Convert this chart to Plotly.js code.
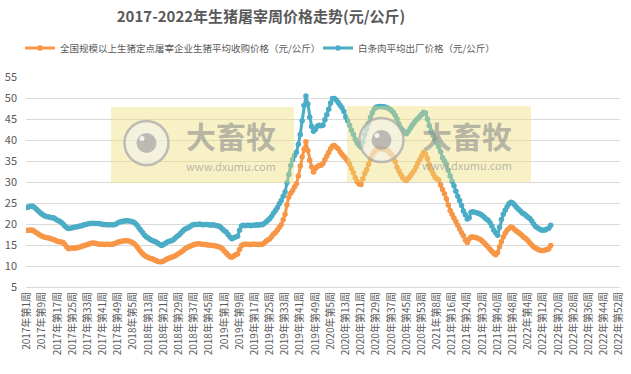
<!DOCTYPE html>
<html>
<head>
<meta charset="utf-8">
<script src="https://cdn.plot.ly/plotly-3.0.1.min.js"></script>
<style>html,body{margin:0;padding:0;background:#fff;}#chart{width:631px;height:374px;}</style>
</head>
<body>
<div id="chart"></div>
<script>
// ---- data ----
const years = [2017, 2018, 2019, 2020, 2021, 2022];
const weeksPerYear = [52, 52, 52, 53, 52, 52];
const seriesNames = ["全国规模以上生猪定点屠宰企业生猪平均收购价格（元/公斤）", "白条肉平均出厂价格（元/公斤）"];
const chartTitle = "2017-2022年生猪屠宰周价格走势(元/公斤)";
const yTicks = [5, 10, 15, 20, 25, 30, 35, 40, 45, 50, 55];

// weekly categories "YYYY年第N周"
const categories = [];
years.forEach((y, k) => { for (let w = 1; w <= weeksPerYear[k]; w++) categories.push(y + "年第" + w + "周"); });
const tickLabels = categories.filter((c, i) => i % 8 === 0);

// 生猪平均收购价格 (orange)
const livePigPrice = [
  // 2017
  18.5,18.5,18.6,18.5,18.2,17.9,17.6,17.3,17.1,16.9,16.8,16.7,16.6,16.4,16.3,16.1,15.9,15.8,15.7,15.6,15.1,14.5,14.1,14.2,14.2,14.3,
  14.3,14.4,14.5,14.7,14.8,15.0,15.1,15.3,15.4,15.5,15.4,15.3,15.2,15.2,15.2,15.1,15.2,15.2,15.1,15.2,15.3,15.5,15.7,15.8,15.9,16.0,
  // 2018
  16.0,16.0,15.9,15.7,15.5,15.1,14.6,14.0,13.4,12.9,12.5,12.2,12.0,11.8,11.7,11.5,11.3,11.1,11.0,11.0,11.2,11.5,11.7,11.9,12.1,12.2,
  12.4,12.7,13.0,13.3,13.6,14.0,14.3,14.5,14.7,14.9,15.1,15.2,15.3,15.3,15.2,15.1,15.1,15.0,15.0,14.9,14.9,14.8,14.7,14.6,14.4,14.1,
  // 2019
  13.6,13.1,12.6,12.2,12.1,12.4,12.7,12.9,13.9,14.8,15.1,15.2,15.2,15.1,15.1,15.2,15.2,15.2,15.1,15.2,15.2,15.5,15.9,16.2,16.5,17.0,
  17.6,18.0,18.6,19.2,19.8,21.0,22.3,24.6,26.4,27.3,28.0,28.8,29.6,31.4,33.8,36.0,37.8,39.6,37.5,35.2,33.6,32.4,33.2,33.7,33.9,34.0,
  // 2020
  34.4,35.3,36.2,37.0,37.9,38.6,38.7,38.3,37.9,37.2,36.6,36.1,35.6,35.0,34.2,33.2,32.2,31.0,30.1,29.5,29.4,30.8,32.0,33.0,34.2,35.4,36.4,
  37.2,37.6,37.9,38.0,37.9,37.8,37.7,37.5,37.0,36.6,36.0,34.9,33.5,32.6,31.8,31.1,30.6,30.4,30.9,31.5,32.1,32.7,33.6,34.5,35.3,36.2,
  // 2021
  37.0,36.6,35.6,34.1,32.9,32.0,31.2,30.8,30.5,29.3,28.2,27.2,26.0,24.5,23.2,22.3,21.4,20.6,19.7,18.8,17.9,17.2,16.2,15.6,16.4,16.9,
  16.9,16.8,16.7,16.5,16.3,15.9,15.5,15.0,14.5,14.0,13.5,13.0,12.7,13.2,14.6,15.8,16.9,17.8,18.5,18.9,19.3,19.1,18.7,18.3,18.0,17.6,
  // 2022
  17.2,16.8,16.5,16.0,15.5,15.0,14.6,14.3,14.0,13.8,13.7,13.7,13.8,13.9,14.1,14.9
];

// 白条肉平均出厂价格 (teal)
const porkCarcassPrice = [
  // 2017
  23.9,24.1,24.2,24.2,23.9,23.5,23.1,22.7,22.3,22.0,21.8,21.7,21.6,21.5,21.5,21.2,20.9,20.7,20.4,20.0,19.5,19.1,18.9,19.0,19.1,19.2,
  19.3,19.4,19.5,19.6,19.8,19.9,20.0,20.1,20.1,20.2,20.1,20.1,20.1,20.0,19.9,19.9,19.8,19.8,19.8,19.8,19.8,20.0,20.3,20.5,20.6,20.7,
  // 2018
  20.7,20.8,20.7,20.6,20.5,20.2,19.7,19.1,18.5,17.9,17.3,16.9,16.6,16.3,16.1,15.9,15.7,15.4,15.1,14.9,15.1,15.4,15.7,15.9,16.0,16.2,
  16.6,17.0,17.3,17.8,18.3,18.7,18.9,19.1,19.4,19.7,19.9,19.9,19.9,20.0,19.9,19.8,19.9,19.9,19.8,19.7,19.8,19.7,19.6,19.5,19.2,18.8,
  // 2019
  18.4,18.1,17.5,16.9,16.5,16.7,16.9,17.1,18.5,19.5,19.7,19.6,19.7,19.7,19.6,19.7,19.7,19.8,19.7,19.9,19.8,20.1,20.5,20.9,21.3,21.9,
  22.6,23.2,23.9,24.8,25.6,26.6,27.6,29.8,31.8,33.9,35.3,36.3,37.1,39.0,41.3,44.6,48.2,50.5,48.6,45.4,43.2,42.1,42.5,43.3,43.5,43.4,
  // 2020
  43.5,44.8,46.0,47.3,48.8,49.9,49.9,49.5,48.9,48.3,47.7,46.8,45.5,44.6,43.5,42.3,41.3,40.2,39.3,38.7,38.3,39.5,41.3,42.7,44.0,45.4,46.5,
  47.4,47.8,47.9,48.0,47.9,47.9,47.8,47.6,47.4,47.1,46.6,45.9,45.0,43.8,42.9,42.3,41.8,41.5,42.1,42.8,43.5,44.1,44.7,45.1,45.6,46.1,
  // 2021
  46.6,46.4,45.0,43.4,42.1,41.1,40.2,39.3,38.4,37.2,35.8,35.0,34.2,32.8,31.4,30.2,29.1,27.8,26.6,25.6,24.4,23.1,22.2,21.2,21.5,22.8,
  22.9,22.8,22.7,22.5,22.3,22.0,21.6,21.2,20.9,20.3,19.5,18.5,17.9,17.3,19.2,21.1,22.3,23.3,24.1,24.8,25.2,25.0,24.5,24.0,23.5,23.1,
  // 2022
  22.6,22.4,22.0,21.6,21.3,20.7,20.0,19.4,19.1,18.8,18.6,18.5,18.6,18.8,19.0,19.7
];

// ---- styling ----
const FONT = '"Noto Sans CJK SC", "Noto Sans", sans-serif';
const ORANGE = '#F79646';
const TEAL = '#4BACC6';
const W = 631, H = 374;
const M = {l: 26, r: 11, t: 77, b: 87};
const px2x = p => (p - M.l) / (W - M.l - M.r);
const py2y = p => (H - M.b - p) / (H - M.t - M.b);

const traces = [
  {
    type: 'scatter', mode: 'lines+markers', name: seriesNames[0], legend: 'legend',
    x: categories.slice(0, livePigPrice.length), y: livePigPrice,
    line: {color: ORANGE, width: 3}, marker: {color: ORANGE, size: 5.5}
  },
  {
    type: 'scatter', mode: 'lines+markers', name: seriesNames[1], legend: 'legend2',
    x: categories.slice(0, porkCarcassPrice.length), y: porkCarcassPrice,
    line: {color: TEAL, width: 3}, marker: {color: TEAL, size: 5.5}
  }
];

// watermark decorations (not data)
const wm = [
  {x0: 111, x1: 294, y0: 107, y1: 183, cx: 146.5, cy: 143, tx: 231, ty: 135, ux: 231, uy: 166},
  {x0: 347, x1: 531, y0: 106, y1: 182, cx: 381.5, cy: 140, tx: 467, ty: 135, ux: 467, uy: 165}
];
const shapes = [], annotations = [];
wm.forEach(w => {
  shapes.push({type: 'rect', xref: 'paper', yref: 'paper', layer: 'above',
    x0: px2x(w.x0), x1: px2x(w.x1), y0: py2y(w.y1), y1: py2y(w.y0),
    fillcolor: 'rgba(238,222,120,0.42)', line: {width: 0}});
  shapes.push({type: 'circle', xref: 'paper', yref: 'paper', layer: 'above',
    x0: px2x(w.cx - 22), x1: px2x(w.cx + 22), y0: py2y(w.cy + 22), y1: py2y(w.cy - 22),
    fillcolor: 'rgba(240,240,240,0.55)', line: {color: 'rgba(170,170,170,0.75)', width: 2.5}});
  shapes.push({type: 'circle', xref: 'paper', yref: 'paper', layer: 'above',
    x0: px2x(w.cx - 10), x1: px2x(w.cx + 10), y0: py2y(w.cy + 10), y1: py2y(w.cy - 10),
    fillcolor: 'rgba(150,150,150,0.6)', line: {width: 0}});
  shapes.push({type: 'circle', xref: 'paper', yref: 'paper', layer: 'above',
    x0: px2x(w.cx - 7), x1: px2x(w.cx - 2), y0: py2y(w.cy - 2), y1: py2y(w.cy - 7),
    fillcolor: 'rgba(255,255,255,0.8)', line: {width: 0}});
  annotations.push({xref: 'paper', yref: 'paper', x: px2x(w.tx), y: py2y(w.ty), xanchor: 'center', yanchor: 'middle',
    text: '<b>大畜牧</b>', showarrow: false, borderpad: 0,
    font: {family: FONT, size: 30, color: 'rgba(140,140,140,0.6)'}});
  annotations.push({xref: 'paper', yref: 'paper', x: px2x(w.ux), y: py2y(w.uy), xanchor: 'center', yanchor: 'middle',
    text: 'www.dxumu.com', showarrow: false, borderpad: 0,
    font: {family: FONT, size: 11, color: 'rgba(150,150,150,0.65)'}});
});

const legendStyle = {orientation: 'h', xanchor: 'left', yanchor: 'middle', y: py2y(48),
  font: {family: FONT, size: 9.5, color: '#595959'}, bgcolor: 'rgba(0,0,0,0)'};

const layout = {
  width: W, height: H,
  margin: M,
  paper_bgcolor: '#ffffff', plot_bgcolor: '#ffffff',
  font: {family: FONT, color: '#595959'},
  title: {text: '<b>' + chartTitle + '</b>', x: 261 / W, xanchor: 'center', xref: 'container',
          y: 1 - 17 / H, yref: 'container', yanchor: 'middle',
          font: {family: FONT, size: 15, color: '#595959'}},
  showlegend: true,
  legend: Object.assign({}, legendStyle, {x: px2x(20)}),
  legend2: Object.assign({}, legendStyle, {x: px2x(318)}),
  xaxis: {
    type: 'category', categoryorder: 'array', categoryarray: categories,
    range: [-0.5, categories.length - 0.5],
    tickmode: 'array', tickvals: tickLabels, ticktext: tickLabels,
    tickangle: -90, tickfont: {family: FONT, size: 10, color: '#595959'},
    showgrid: false, showline: true, linecolor: '#D9D9D9', linewidth: 1,
    ticks: '', zeroline: false, fixedrange: true
  },
  yaxis: {
    range: [5, 55], tickmode: 'array', tickvals: yTicks,
    tickfont: {family: FONT, size: 11, color: '#595959'},
    showgrid: true, gridcolor: '#D9D9D9', gridwidth: 1,
    zeroline: false, showline: false, ticks: '', ticklabelstandoff: 8, fixedrange: true
  },
  shapes: shapes,
  annotations: annotations
};

Plotly.newPlot('chart', traces, layout, {staticPlot: true, displayModeBar: false});
</script>
</body>
</html>
